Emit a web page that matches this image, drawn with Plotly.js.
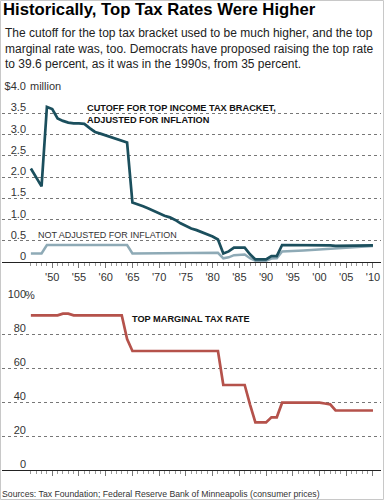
<!DOCTYPE html>
<html>
<head>
<meta charset="utf-8">
<script src="https://cdn.plot.ly/plotly-3.0.1.min.js"></script>
<style>
html,body{margin:0;padding:0;background:#fff;}
#chart{width:384px;height:500px;}
</style>
</head>
<body>
<div id="chart"></div>
<script>
// ---- DATA ----
const years = [1946,1947,1948,1949,1950,1951,1952,1953,1954,1955,1956,1957,1958,1959,1960,1961,1962,1963,1964,1965,1966,1967,1968,1969,1970,1971,1972,1973,1974,1975,1976,1977,1978,1979,1980,1981,1982,1983,1984,1985,1986,1987,1988,1989,1990,1991,1992,1993,1994,1995,1996,1997,1998,1999,2000,2001,2002,2003,2004,2005,2006,2007,2008,2009,2010];
// cutoff for top bracket, adjusted for inflation ($ millions)
const cutoffAdjusted = [2.20,1.98,1.78,3.65,3.60,3.38,3.32,3.28,3.26,3.26,3.25,3.15,3.06,3.02,2.98,2.94,2.90,2.86,2.81,1.40,1.36,1.31,1.26,1.20,1.14,1.09,1.05,0.99,0.91,0.84,0.79,0.75,0.70,0.66,0.60,0.53,0.20,0.25,0.34,0.34,0.34,0.18,0.06,0.06,0.06,0.14,0.14,0.40,0.40,0.39,0.39,0.39,0.39,0.39,0.39,0.39,0.39,0.38,0.38,0.38,0.38,0.38,0.38,0.39,0.39];
// cutoff, not adjusted ($ millions)
const cutoffNominal = [0.20,0.20,0.20,0.40,0.40,0.40,0.40,0.40,0.40,0.40,0.40,0.40,0.40,0.40,0.40,0.40,0.40,0.40,0.40,0.20,0.20,0.20,0.20,0.20,0.20,0.20,0.20,0.20,0.20,0.20,0.20,0.20,0.20,0.215,0.215,0.215,0.086,0.11,0.16,0.17,0.175,0.09,0.03,0.03,0.03,0.08,0.087,0.25,0.25,0.256,0.264,0.271,0.279,0.283,0.288,0.297,0.307,0.312,0.319,0.326,0.336,0.349,0.357,0.373,0.374];
// top marginal tax rate (%)
const topRate = [91,91,91,91,91,91,92,92,91,91,91,91,91,91,91,91,91,91,77,70,70,70,70,70,70,70,70,70,70,70,70,70,70,70,70,70,50,50,50,50,50,38.5,28,28,28,31,31,39.6,39.6,39.6,39.6,39.6,39.6,39.6,39.6,39.1,38.6,35,35,35,35,35,35,35,35];

const xTickVals = [1950,1955,1960,1965,1970,1975,1980,1985,1990,1995,2000,2005,2010];
const xTickText = ["'50","'55","'60","'65","'70","'75","'80","'85","'90","'95","'00","'05","'10"];
const y1TickVals = [0,0.5,1.0,1.5,2.0,2.5,3.0,3.5,4.0];
const y1TickText = ["0","0.5","1.0","1.5","2.0","2.5","3.0","3.5","$4.0"];
const y1TopUnit = "million";
const y2TickVals = [0,20,40,60,80,100];
const y2TickText = ["0","20","40","60","80","100"];
const y2TopUnit = "%";

// ---- STYLE ----
const W = 384, H = 500, ML = 2, MR = 3;
const PW = W - ML - MR;
const px = p => (p - ML) / PW;      // pixel x -> paper x
const py = p => 1 - p / H;           // pixel y -> paper y
const FONT = "Liberation Sans, Arial, sans-serif";
const DARK = "#1b4f5d", LIGHT = "#8eaab6", RED = "#b5524b";
const AXPOS = px(26);

const traces = [
  {x: years, y: cutoffNominal, type: 'scatter', mode: 'lines', xaxis: 'x', yaxis: 'y',
   line: {color: LIGHT, width: 2.5}, hoverinfo: 'skip'},
  {x: years, y: cutoffAdjusted, type: 'scatter', mode: 'lines', xaxis: 'x', yaxis: 'y',
   line: {color: DARK, width: 2.7}, hoverinfo: 'skip'},
  {x: years, y: topRate, type: 'scatter', mode: 'lines', xaxis: 'x2', yaxis: 'y2',
   line: {color: RED, width: 2.7}, hoverinfo: 'skip'}
];

const xCommon = {
  range: [1940.6, 2011.5], domain: [0, 1],
  showgrid: false, zeroline: false, showline: true, linecolor: '#222', linewidth: 1,
  ticks: 'outside', ticklen: 5, tickwidth: 1, tickcolor: '#777',
  tickmode: 'array', tickvals: xTickVals, ticktext: xTickText,
  minor: {tickmode: 'array', tickvals: years, ticks: 'outside', ticklen: 3, tickwidth: 1, tickcolor: '#999', showgrid: false},
  tickfont: {family: FONT, size: 11, color: '#333'}, fixedrange: true
};
const yCommon = {
  anchor: 'free', position: AXPOS, side: 'left',
  showline: false, zeroline: false, ticks: '', showgrid: true,
  gridcolor: '#777', griddash: 'dot', gridwidth: 1,
  ticklabelposition: 'outside top', ticklabelshift: 2,
  tickfont: {family: FONT, size: 11, color: '#333'}, fixedrange: true
};

const layout = {
  width: W, height: H,
  margin: {l: ML, r: MR, t: 0, b: 0, pad: 0},
  paper_bgcolor: '#fff', plot_bgcolor: 'rgba(0,0,0,0)',
  showlegend: false,
  title: {text: '<b>Historically, Top Tax Rates Were Higher</b>',
          xref: 'container', yref: 'container', x: 3 / W, y: 1 - 3 / H,
          xanchor: 'left', yanchor: 'top',
          font: {family: FONT, size: 16.7, color: '#000'}},
  xaxis: Object.assign({}, xCommon, {anchor: 'y'}),
  xaxis2: Object.assign({}, xCommon, {anchor: 'y2', showticklabels: false}),
  yaxis: Object.assign({}, yCommon, {domain: [py(262), py(92)], range: [0, 4.0],
          tickmode: 'array', tickvals: y1TickVals, ticktext: y1TickText}),
  yaxis2: Object.assign({}, yCommon, {domain: [py(470), py(300)], range: [0, 100],
          tickmode: 'array', tickvals: y2TickVals, ticktext: y2TickText}),
  annotations: [
    {xref: 'paper', yref: 'paper', x: px(3), y: py(24), xanchor: 'left', yanchor: 'top', align: 'left',
     showarrow: false, font: {family: FONT, size: 12, color: '#222'},
     text: 'The cutoff for the top tax bracket used to be much higher, and the top<br>marginal rate was, too. Democrats have proposed raising the top rate<br>to 39.6 percent, as it was in the 1990s, from 35 percent.'},
    {xref: 'paper', yref: 'y', x: px(27.5), y: y1TickVals[y1TickVals.length - 1], xanchor: 'left', yanchor: 'bottom', yshift: -2.5,
     showarrow: false, font: {family: FONT, size: 11, color: '#333'}, text: y1TopUnit},
    {xref: 'paper', yref: 'y2', x: px(23), y: y2TickVals[y2TickVals.length - 1], xanchor: 'left', yanchor: 'bottom', yshift: -2.5,
     showarrow: false, font: {family: FONT, size: 11, color: '#333'}, text: y2TopUnit},
    {xref: 'paper', yref: 'paper', x: px(85), y: py(101), xanchor: 'left', yanchor: 'top', align: 'left',
     showarrow: false, font: {family: FONT, size: 9.2, color: '#111'},
     text: '<b>CUTOFF FOR TOP INCOME TAX BRACKET,<br>ADJUSTED FOR INFLATION</b>'},
    {xref: 'paper', yref: 'paper', x: px(36), y: py(228), xanchor: 'left', yanchor: 'top', align: 'left',
     showarrow: false, font: {family: FONT, size: 9.0, color: '#333'},
     text: 'NOT ADJUSTED FOR INFLATION'},
    {xref: 'paper', yref: 'paper', x: px(130), y: py(312), xanchor: 'left', yanchor: 'top', align: 'left',
     showarrow: false, font: {family: FONT, size: 9.2, color: '#111'},
     text: '<b>TOP MARGINAL TAX RATE</b>'},
    {xref: 'paper', yref: 'paper', x: px(0), y: py(487), xanchor: 'left', yanchor: 'top', align: 'left',
     showarrow: false, font: {family: FONT, size: 8.7, color: '#333'},
     text: 'Sources: Tax Foundation; Federal Reserve Bank of Minneapolis (consumer prices)'}
  ],
  shapes: [
    {type: 'rect', xref: 'paper', yref: 'paper', x0: px(0.5), x1: px(W - 0.5), y0: py(H - 0.5), y1: py(0.5),
     line: {color: '#c8c8c8', width: 1}, fillcolor: 'rgba(0,0,0,0)', layer: 'below'}
  ]
};

Plotly.newPlot('chart', traces, layout, {staticPlot: true, displayModeBar: false});
</script>
</body>
</html>
